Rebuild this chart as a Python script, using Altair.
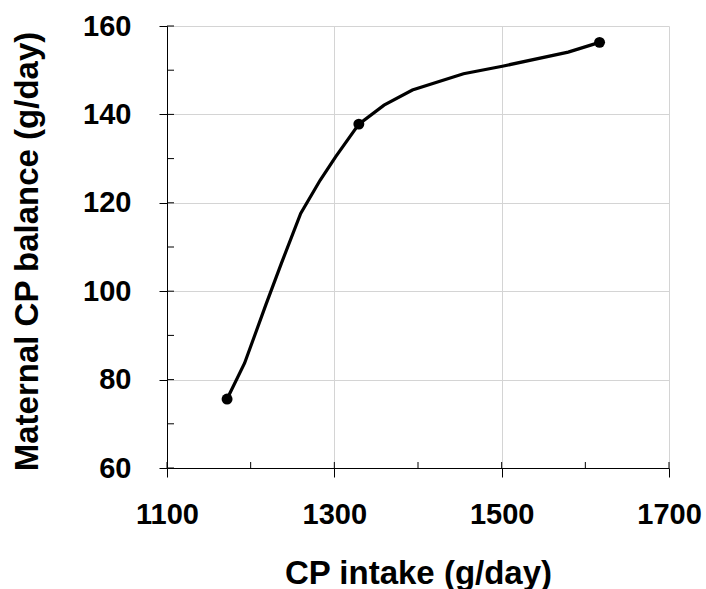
import altair as alt
import pandas as pd

# Smoothed curve vertices
curve_x = [1171.8, 1192.7, 1218.1, 1236.7, 1259.8, 1283.0, 1301.5, 1329.3, 1359.4, 1393.3, 1454.4, 1500.8, 1579.5, 1617.0]
curve_y = [75.6, 83.7, 96.9, 106.3, 117.6, 125.1, 130.4, 137.8, 142.1, 145.5, 149.2, 150.9, 154.1, 156.3]

# Observed points
point_x = [1171.8, 1329.3, 1617.0]
point_y = [75.6, 137.8, 156.3]

x_major = [1100, 1300, 1500, 1700]
x_minor = [1100, 1200, 1300, 1400, 1500, 1600, 1700]
y_major = [60, 80, 100, 120, 140, 160]
y_minor = [60, 70, 80, 90, 100, 110, 120, 130, 140, 150, 160]

W, H = 502, 442
FONT = "Liberation Sans"

curve = pd.DataFrame({"x": curve_x, "y": curve_y})
pts = pd.DataFrame({"x": point_x, "y": point_y})
xt = pd.DataFrame({"x": x_minor})
yt = pd.DataFrame({"y": y_minor})

xscale = alt.Scale(domain=[1100, 1700], nice=False, zero=False)
yscale = alt.Scale(domain=[60, 160], nice=False, zero=False)

xaxis = alt.Axis(
    values=x_major, format="d", grid=True, gridColor="#d4d4d4", gridWidth=1,
    domainColor="black", domainWidth=1, tickColor="black", tickSize=9, tickWidth=1,
    labelFont=FONT, labelFontSize=29, labelFontWeight="bold", labelColor="black",
    labelBaseline="alphabetic", labelPadding=46, labelFlush=False, labelOverlap=False,
    title="CP intake (g/day)", titleFont=FONT, titleFontSize=33, titleFontWeight="bold",
    titleColor="black", titleBaseline="alphabetic", titleX=W / 2, titleY=115, titleAlign="center",
)
yaxis = alt.Axis(
    values=y_major, format="d", grid=True, gridColor="#d4d4d4", gridWidth=1,
    domainColor="black", domainWidth=1, tickColor="black", tickSize=8, tickWidth=1,
    labelFont=FONT, labelFontSize=29, labelFontWeight="bold", labelColor="black",
    labelBaseline="middle", labelPadding=28, labelFlush=False, labelOverlap=False,
    title="Maternal CP balance (g/day)", titleFont=FONT, titleFontSize=33, titleFontWeight="bold",
    titleColor="black", titleAngle=270, titleBaseline="alphabetic", titleAlign="center",
    titleX=-130, titleY=H / 2 + 4,
)

line = alt.Chart(curve).mark_line(color="black", strokeWidth=3.2).encode(
    x=alt.X("x:Q", scale=xscale, axis=xaxis),
    y=alt.Y("y:Q", scale=yscale, axis=yaxis),
    order=alt.Order("x:Q"),
)
dots = alt.Chart(pts).mark_circle(color="black", size=120, opacity=1).encode(
    x=alt.X("x:Q", scale=xscale),
    y=alt.Y("y:Q", scale=yscale),
)
xin = alt.Chart(xt).mark_rule(color="black", strokeWidth=1).encode(
    x=alt.X("x:Q", scale=xscale),
    y=alt.value(H),
    y2=alt.value(H - 6),
)
yin = alt.Chart(yt).mark_rule(color="black", strokeWidth=1).encode(
    y=alt.Y("y:Q", scale=yscale),
    x=alt.value(0),
    x2=alt.value(7),
)

chart = alt.layer(line, xin, yin, dots).properties(
    width=W, height=H,
    autosize=alt.AutoSizeParams(type="none"),
    padding={"left": 167, "top": 26, "right": 37, "bottom": 121},
    background="white",
).configure_view(stroke=None)

chart.save("out.html", embed_options={"renderer": "svg", "actions": False})
